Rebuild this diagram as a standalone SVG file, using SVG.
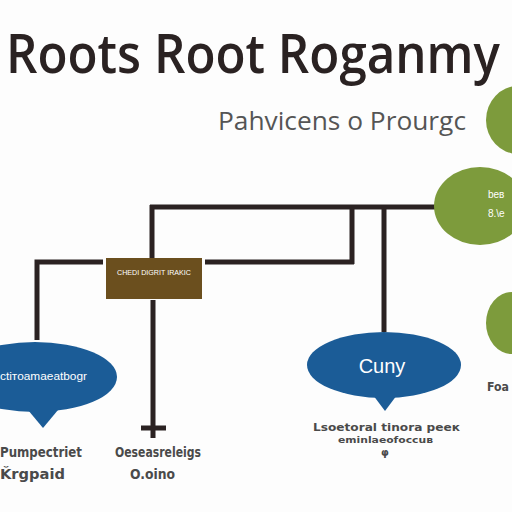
<svg xmlns="http://www.w3.org/2000/svg" width="512" height="512" viewBox="0 0 512 512">
<style>
.ln{stroke:#2b2222;stroke-width:5;fill:none}
.grn{fill:#7d9b3c}
.blu{fill:#1b5c97}
.wt{fill:#ffffff;font-family:"Liberation Sans",sans-serif}
.gt{fill:#4a4a4a;font-family:"DejaVu Sans",sans-serif;font-weight:bold}
</style>
<rect width="512" height="512" fill="#fdfdfd"/>
<g id="title">
<text x="6" y="65" transform="scale(1,1.125)" font-family="Open Sans, sans-serif" font-weight="600" font-size="48" fill="#2a2222" textLength="494" lengthAdjust="spacingAndGlyphs">Roots Root Roganmy</text>
<text x="218" y="130" font-family="Open Sans, sans-serif" font-size="25" fill="#555555" textLength="248" lengthAdjust="spacingAndGlyphs">Pahvicens o Prourgc</text>
</g>
<g id="connectors">
<path class="ln" d="M152 205 V258 M150 207 H436 M352 205 V264 M205 262 H354 M384 205 V332 M103 262 H37 V340 M153 300 V438 M141 428 H166"/>
</g>
<g id="green-top"><ellipse class="grn" cx="518" cy="120" rx="32" ry="34"/></g>
<g id="green-mid">
<ellipse class="grn" cx="480" cy="206" rx="46" ry="39"/>
<text class="wt" x="488" y="198" font-size="10">beв</text>
<text class="wt" x="488" y="217" font-size="10">8.\e</text>
</g>
<g id="green-low"><ellipse class="grn" cx="512" cy="323" rx="26" ry="31"/></g>
<g id="box">
<rect x="106" y="258" width="96" height="41" fill="#6b4f1e"/>
<text class="wt" x="154" y="275" font-size="8" text-anchor="middle" textLength="74" lengthAdjust="spacingAndGlyphs">CHEDI DIGRIT IRAKIC</text>
</g>
<g id="blue-left">
<ellipse class="blu" cx="35" cy="377" rx="82" ry="35"/>
<path class="blu" d="M28 410 L58 410 L43 428 Z"/>
<text class="wt" x="0" y="380" font-size="10" textLength="87" lengthAdjust="spacingAndGlyphs">ctiтоamaeatbogr</text>
</g>
<g id="blue-right">
<ellipse class="blu" cx="384" cy="365" rx="77" ry="33"/>
<path class="blu" d="M373 395 L397 395 L385 411 Z"/>
<text class="wt" x="382" y="373" font-size="20" text-anchor="middle" font-family="Liberation Serif, serif">Cuny</text>
</g>
<g id="labels">
<text class="gt" x="0" y="457" font-size="14" textLength="82" lengthAdjust="spacingAndGlyphs">Pumpectriet</text>
<text class="gt" x="0" y="479" font-size="14" textLength="65" lengthAdjust="spacingAndGlyphs">Ǩrgpaid</text>
<text class="gt" x="115" y="457" font-size="14" textLength="86" lengthAdjust="spacingAndGlyphs">Oeseasreleigs</text>
<text class="gt" x="130" y="479" font-size="14" textLength="45" lengthAdjust="spacingAndGlyphs">O.oino</text>
<text class="gt" x="313" y="431" font-size="11" textLength="147" lengthAdjust="spacingAndGlyphs">Lsoetoral tinora peeк</text>
<text class="gt" x="338" y="443" font-size="9" textLength="95" lengthAdjust="spacingAndGlyphs">eminlaeofoccuв</text>
<text class="gt" x="385" y="456" font-size="10" text-anchor="middle">φ</text>
<text class="gt" x="487" y="391" font-size="13" textLength="22" lengthAdjust="spacingAndGlyphs">Foa</text>
</g>
</svg>
